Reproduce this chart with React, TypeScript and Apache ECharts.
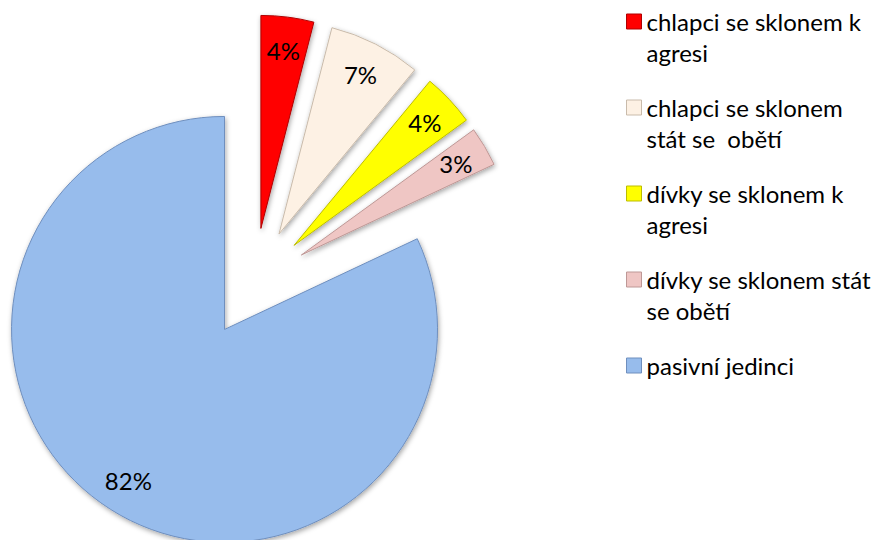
import React, { useEffect, useRef } from 'react';
import * as echarts from 'echarts';

const categories = [
  'chlapci se sklonem k agresi',
  'chlapci se sklonem stát se  obětí',
  'dívky se sklonem k agresi',
  'dívky se sklonem stát se obětí',
  'pasivní jedinci',
];
const values = [4, 7, 4, 3, 82];
const legendLines = [
  ['chlapci se sklonem k', 'agresi'],
  ['chlapci se sklonem', 'stát se  obětí'],
  ['dívky se sklonem k', 'agresi'],
  ['dívky se sklonem stát', 'se obětí'],
  ['pasivní jedinci'],
];
const colors = ['#FF0000', '#FDF1E4', '#FFFF00', '#EFC6C4', '#97BCEC'];
const borderColors = ['#B00000', '#C9BBAB', '#BDBD00', '#BE9896', '#6F8FBE'];

const FONT = 'Lato, "Open Sans", sans-serif';

export default function App() {
  const ref = useRef<HTMLDivElement>(null);
  useEffect(() => {
    document.body.style.margin = '0';
    const chart = echarts.init(ref.current!, undefined, { renderer: 'svg' });
    const pieData = categories.map((name, i) => {
      const st = {
        color: colors[i],
        borderColor: borderColors[i],
        borderWidth: 1,
        shadowBlur: 5,
        shadowOffsetX: 1,
        shadowOffsetY: 2,
        shadowColor: 'rgba(0,0,0,0.35)',
      };
      return { name, value: values[i], selected: true, itemStyle: st, select: { itemStyle: st } };
    });
    const labelData = categories.map((name, i) => ({
      name,
      value: values[i],
      selected: true,
      itemStyle: { color: 'rgba(0,0,0,0)' },
      select: { itemStyle: { color: 'rgba(0,0,0,0)' } },
    }));
    const center = [254, 283];
    chart.setOption({
      animation: false,
      backgroundColor: '#ffffff',
      legend: {
        orient: 'vertical',
        left: 626,
        top: -25,
        padding: 0,
        itemGap: -7,
        itemWidth: 15,
        itemHeight: 15,
        icon: 'rect',
        selectedMode: false,
        data: categories,
        itemStyle: { shadowBlur: 0, borderWidth: 1 },
        formatter: (name: string) => {
          const lines = legendLines[categories.indexOf(name)];
          return '\n' + lines.join('\n') + (lines.length === 1 ? '\n' : '');
        },
        textStyle: { fontFamily: FONT, fontSize: 24, lineHeight: 31, color: '#000' },
      },
      series: [
        {
          type: 'pie',
          center,
          radius: 213,
          startAngle: 90,
          clockwise: true,
          selectedMode: 'multiple',
          selectedOffset: 55,
          avoidLabelOverlap: false,
          label: { show: false },
          labelLine: { show: false },
          emphasis: { disabled: true },
          data: pieData,
        },
        {
          type: 'pie',
          center,
          radius: [140, 213],
          startAngle: 90,
          clockwise: true,
          selectedMode: 'multiple',
          selectedOffset: 55,
          avoidLabelOverlap: false,
          silent: true,
          label: {
            show: true,
            position: 'inside',
            formatter: '{c}%',
            fontFamily: FONT,
            fontSize: 24,
            color: '#000',
          },
          labelLine: { show: false },
          emphasis: { disabled: true },
          data: labelData,
        },
      ],
    });
    return () => chart.dispose();
  }, []);
  return (
    <div
      ref={ref}
      style={{ position: 'absolute', left: 0, top: 0, width: 883, height: 540 }}
    />
  );
}
